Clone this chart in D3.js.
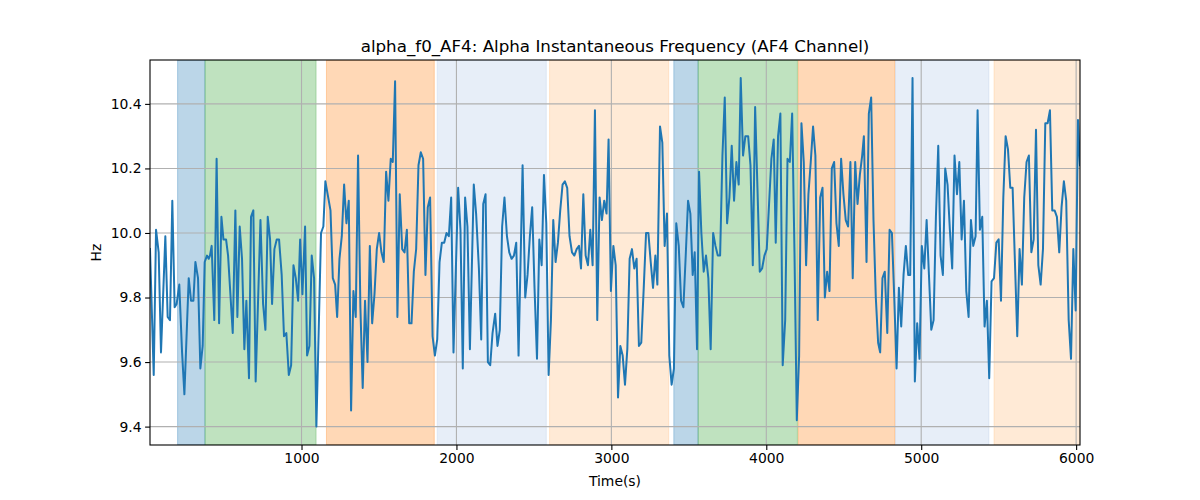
<!DOCTYPE html>
<html><head><meta charset="utf-8">
<script src="https://cdn.jsdelivr.net/npm/d3@7"></script>
<style>body{margin:0;background:#fff}svg{display:block}text{font-family:"DejaVu Sans",sans-serif}</style>
</head><body>
<svg id="c" width="1200" height="500"></svg>
<script>
const title = "alpha_f0_AF4: Alpha Instantaneous Frequency (AF4 Channel)";
const xLabel = "Time(s)";
const yLabel = "Hz";
const xTicks = [1000, 2000, 3000, 4000, 5000, 6000];
const yTicks = [9.4, 9.6, 9.8, 10.0, 10.2, 10.4];
const spanColors = {blue:"#1f77b4", green:"#2ca02c", orange:"#ff7f0e", lightblue:"#aec7e8", lightorange:"#ffbb78"};
const spans = [
  [200,377,"blue"],[377,1094,"green"],[1161,1857,"orange"],[1876,2580,"lightblue"],[2601,3370,"lightorange"],
  [3403,3560,"blue"],[3560,4201,"green"],[4206,4830,"orange"],[4834,5437,"lightblue"],[5470,6040,"lightorange"]
];
const samples = [
[22,9.95],[46,9.56],[61,10.01],[78,9.94],[93,9.63],[121,9.99],[136,9.74],[151,9.73],[166,10.10],[181,9.77],[194,9.78],[211,9.84],[229,9.63],[244,9.50],[272,9.86],[287,9.79],[302,9.79],[315,9.91],[332,9.86],[347,9.58],[362,9.65],[375,9.91],[390,9.93],[401,9.92],[409,9.93],[420,9.96],[437,9.73],[452,10.23],[468,9.72],[483,10.05],[496,9.98],[513,9.98],[526,9.93],[556,9.69],[573,10.07],[586,9.74],[601,10.02],[616,9.92],[631,9.64],[644,9.79],[661,9.55],[674,10.05],[689,10.07],[704,9.54],[735,10.04],[752,9.78],[767,9.70],[782,10.05],[797,9.98],[810,9.78],[825,9.95],[840,9.98],[855,9.98],[872,9.87],[887,9.68],[902,9.69],[918,9.56],[933,9.59],[948,9.90],[963,9.86],[978,9.79],[991,9.98],[1006,9.81],[1023,10.02],[1036,9.62],[1051,9.65],[1066,9.93],[1081,9.86],[1096,9.40],
[1126,10.00],[1141,10.02],[1154,10.16],[1187,10.07],[1202,9.86],[1217,9.84],[1230,9.74],[1245,9.92],[1260,9.99],[1275,10.15],[1290,10.03],[1305,10.10],[1320,9.45],[1335,9.82],[1350,9.74],[1365,10.24],[1380,9.77],[1395,9.52],[1410,9.79],[1426,9.60],[1441,9.96],[1456,9.72],[1471,9.81],[1486,9.95],[1501,10.00],[1516,9.94],[1531,9.91],[1546,10.19],[1561,10.10],[1576,10.23],[1589,10.22],[1604,10.47],[1619,9.74],[1634,10.12],[1650,9.95],[1665,9.94],[1680,10.01],[1695,9.72],[1710,9.72],[1725,9.88],[1740,9.95],[1755,10.21],[1770,10.25],[1785,10.23],[1800,9.87],[1815,10.08],[1830,10.11],[1846,9.68],[1861,9.62],[1876,9.67],[1891,9.91],[1906,9.97],[1921,9.97],[1936,10.00],[1951,9.99],[1966,10.11],[1981,9.63],[2011,10.14],[2026,10.01],[2041,9.58],[2056,10.11],[2071,10.02],[2087,9.64],[2112,10.15],[2127,10.06],[2145,9.89],[2160,9.67],[2173,10.09],[2188,10.12],[2203,9.60],[2218,9.59],[2233,9.69],[2250,9.75],[2265,9.65],[2280,9.70],[2295,10.02],[2310,10.11],[2326,9.99],[2341,9.94],[2356,9.92],[2371,9.93],[2386,9.97],[2401,9.62],
[2427,10.21],[2444,9.80],[2459,9.87],[2474,9.99],[2489,10.08],[2504,9.83],[2520,9.61],[2535,9.98],[2550,9.90],[2565,10.18],[2580,10.03],[2595,9.56],[2610,9.73],[2625,10.04],[2640,9.91],[2655,9.97],[2670,10.07],[2685,10.15],[2700,10.16],[2715,10.14],[2730,9.99],[2746,9.94],[2761,9.93],[2776,9.95],[2791,9.96],[2804,9.89],[2819,10.12],[2834,9.93],[2849,9.90],[2864,10.01],[2879,9.90],[2894,10.38],[2909,9.73],[2924,10.11],[2939,10.04],[2954,10.10],[2969,10.06],[2982,10.29],[2997,9.82],[3013,9.96],[3028,9.90],[3043,9.49],[3058,9.65],[3073,9.62],[3088,9.53],[3103,9.64],[3118,9.92],[3133,9.95],[3148,9.89],[3163,9.92],[3178,9.65],[3193,9.66],[3209,9.83],[3224,10.00],[3239,10.00],[3254,9.91],[3269,9.83],[3284,9.93],[3297,9.84],[3314,10.33],[3329,10.28],[3344,9.96],[3359,10.06],[3374,9.62],[3389,9.53],[3404,9.58],[3419,10.03],[3435,9.96],[3450,9.79],[3465,9.77],[3480,9.93],[3495,10.10],[3510,10.06],[3525,9.87],[3538,9.94],[3553,9.64],[3566,10.19],
[3581,10.00],[3596,9.88],[3611,9.93],[3626,9.86],[3641,9.64],[3657,10.00],[3672,9.96],[3687,9.93],[3702,9.93],[3717,10.24],[3732,10.42],[3747,10.03],[3762,10.11],[3777,10.27],[3792,10.10],[3807,10.22],[3822,10.15],[3835,10.48],[3850,10.24],[3865,10.30],[3883,10.30],[3898,10.21],[3913,9.90],[3928,10.39],[3943,10.14],[3958,9.88],[3973,9.89],[3988,9.93],[4003,9.95],[4018,10.09],[4033,10.23],[4048,10.29],[4061,9.97],[4076,10.30],[4091,10.37],[4106,9.59],[4122,9.73],[4137,10.23],[4152,10.22],[4167,10.37],[4182,9.94],[4197,9.42],[4212,9.62],[4227,10.34],[4242,10.22],[4257,9.90],[4272,10.12],[4287,10.22],[4302,10.33],[4317,10.24],[4332,9.73],[4348,10.11],[4363,10.14],[4378,9.80],[4393,9.88],[4408,9.82],[4423,10.20],[4438,10.22],[4453,10.03],[4468,9.96],[4483,10.23],[4498,10.12],[4513,10.04],[4528,10.02],[4543,10.22],[4558,9.86],[4574,10.22],[4589,10.09],[4604,10.18],[4619,10.24],[4630,10.30],[4647,9.91],[4662,10.37],[4677,10.42],[4692,10.04],[4707,9.80],[4722,9.66],[4735,9.63],
[4750,9.86],[4765,9.88],[4781,9.69],[4796,10.01],[4811,10.00],[4826,9.80],[4841,9.58],[4856,9.83],[4871,9.71],[4886,9.87],[4901,9.96],[4916,9.87],[4929,9.87],[4944,10.48],[4959,9.54],[4974,9.72],[4989,9.61],[5004,9.96],[5020,9.89],[5035,10.04],[5050,9.87],[5065,9.70],[5080,9.73],[5095,10.05],[5110,10.27],[5125,9.93],[5140,9.87],[5155,10.20],[5170,10.15],[5185,10.01],[5200,9.89],[5215,10.24],[5231,10.12],[5246,10.22],[5261,9.98],[5276,10.10],[5291,9.82],[5306,9.74],[5321,10.04],[5336,9.96],[5351,9.99],[5364,10.38],[5379,10.01],[5394,10.05],[5409,9.71],[5424,9.79],[5439,9.55],[5454,9.85],[5470,9.86],[5485,9.97],[5500,9.98],[5515,9.79],[5530,10.11],[5545,10.30],[5560,10.26],[5575,10.14],[5590,10.14],[5605,9.91],[5620,9.68],[5635,9.95],[5650,9.84],[5665,10.11],[5680,10.22],[5695,10.24],[5711,9.94],[5726,9.98],[5741,10.32],[5756,9.90],[5771,9.84],[5786,9.95],[5801,10.34],[5816,10.34],[5831,10.38],[5846,10.07],[5861,10.07],[5876,10.05],[5891,9.94],[5906,10.08],[5921,10.16],[5936,10.10],[5952,9.73],[5967,9.61],[5982,9.95],[5997,9.76],[6012,10.35],[6025,10.21]
];

const W = 1200, H = 500;
const m = {left:150, top:60, right:120, bottom:55};
const iw = W - m.left - m.right, ih = H - m.top - m.bottom;
const svg = d3.select("#c");
const g = svg.append("g").attr("transform", `translate(${m.left},${m.top})`);

const x = d3.scaleLinear().domain([22, 6025]).range([0, iw]);
const y = d3.scaleLinear().domain([9.343, 10.536]).range([ih, 0]);

svg.append("defs").append("clipPath").attr("id","clip")
  .append("rect").attr("width", iw).attr("height", ih);

const plot = g.append("g").attr("clip-path","url(#clip)");

// spans
plot.selectAll("rect.span").data(spans).enter().append("rect")
  .attr("class","span")
  .attr("x", d => x(d[0]))
  .attr("width", d => x(d[1]) - x(d[0]))
  .attr("y", 0).attr("height", ih)
  .attr("fill", d => spanColors[d[2]]).attr("fill-opacity", 0.3)
  .attr("stroke", d => spanColors[d[2]]).attr("stroke-opacity", 0.3).attr("stroke-width", 1);

// grid
plot.selectAll("line.gx").data(xTicks).enter().append("line")
  .attr("x1", d => x(d)).attr("x2", d => x(d)).attr("y1", 0).attr("y2", ih)
  .attr("stroke", "#b0b0b0").attr("stroke-width", 1.1);
plot.selectAll("line.gy").data(yTicks).enter().append("line")
  .attr("y1", d => y(d)).attr("y2", d => y(d)).attr("x1", 0).attr("x2", iw)
  .attr("stroke", "#b0b0b0").attr("stroke-width", 1.1);

// line
const line = d3.line().x(d => x(d[0])).y(d => y(d[1]));
plot.append("path").datum(samples).attr("d", line)
  .attr("fill","none").attr("stroke","#1f77b4").attr("stroke-width",2)
  .attr("stroke-linejoin","round").attr("stroke-linecap","square");

// axes
const xAxis = d3.axisBottom(x).tickValues(xTicks).tickFormat(d3.format("d")).tickSize(4.9).tickPadding(3.5);
const yAxis = d3.axisLeft(y).tickValues(yTicks).tickFormat(d3.format(".1f")).tickSize(4.9).tickPadding(3.5);
const gx = g.append("g").attr("transform", `translate(0,${ih})`).call(xAxis);
const gy = g.append("g").call(yAxis);
[gx, gy].forEach(a => {
  a.select(".domain").remove();
  a.selectAll("line").attr("stroke","#000").attr("stroke-width",1.1);
  a.selectAll("text").attr("fill","#000").style("font-size","13.9px").style("font-family","DejaVu Sans, sans-serif");
});

// frame
g.append("rect").attr("width", iw).attr("height", ih)
  .attr("fill","none").attr("stroke","#000").attr("stroke-width",1.1);

// labels
svg.append("text").attr("x", m.left + iw/2).attr("y", 52).attr("text-anchor","middle")
  .style("font-size","16.7px").text(title);
svg.append("text").attr("x", m.left + iw/2).attr("y", 486).attr("text-anchor","middle")
  .style("font-size","13.9px").text(xLabel);
svg.append("text").attr("transform", `translate(101,${m.top + ih/2}) rotate(-90)`).attr("text-anchor","middle")
  .style("font-size","13.9px").text(yLabel);
</script>
</body></html>
